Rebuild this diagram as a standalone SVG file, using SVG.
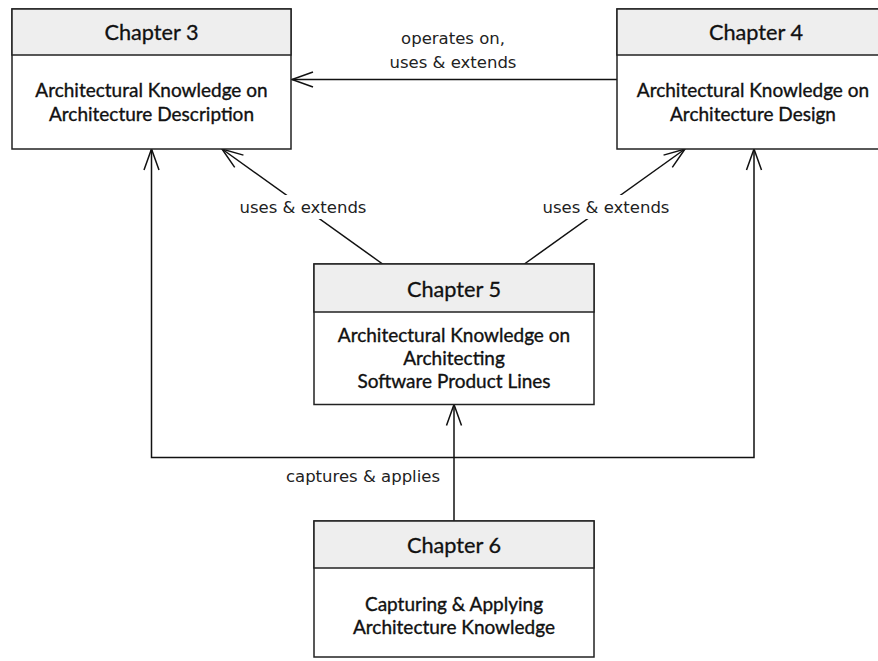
<svg xmlns="http://www.w3.org/2000/svg" width="878" height="661" viewBox="0 0 878 661">
  <style>
    .box { fill: #ffffff; stroke: #222222; stroke-width: 1.5; }
    .head { fill: #eeeeee; stroke: #222222; stroke-width: 1.5; }
    .title { font-family: Lato, "Liberation Sans", sans-serif; font-size: 21.7px; fill: #111111; stroke: #111111; stroke-width: 0.3; text-anchor: middle; }
    .body { font-family: Lato, "Liberation Sans", sans-serif; font-size: 19px; fill: #111111; stroke: #111111; stroke-width: 0.35; text-anchor: middle; }
    .label { font-family: "DejaVu Sans", sans-serif; font-size: 16.5px; fill: #222222; text-anchor: middle; }
    .conn { fill: none; stroke: #111111; stroke-width: 1.5; }
  </style>
  <defs>
    <marker id="open" markerUnits="userSpaceOnUse" markerWidth="30" markerHeight="30" viewBox="-25 -12 30 24" refX="0" refY="0" orient="auto-start-reverse" overflow="visible">
      <path d="M-21,-7.5 L0,0 L-21,7.5" fill="none" stroke="#111111" stroke-width="1.5"/>
    </marker>
  </defs>
  <rect width="878" height="661" fill="#ffffff"/>

  <!-- connectors -->
  <g id="connectors">
    <line class="conn" x1="617" y1="79.5" x2="292" y2="79.5" marker-end="url(#open)"/>
    <line class="conn" x1="384" y1="265" x2="222" y2="149" marker-end="url(#open)"/>
    <line class="conn" x1="523" y1="265" x2="685" y2="149" marker-end="url(#open)"/>
    <path class="conn" d="M151.5,149 V457.5 H754 V149" marker-start="url(#open)" marker-end="url(#open)"/>
    <line class="conn" x1="454" y1="521" x2="454" y2="404.5" marker-end="url(#open)"/>
    <rect x="378" y="26" width="152" height="48" fill="#ffffff"/>
    <text class="label" x="453" y="44">operates on,</text>
    <text class="label" x="453" y="68">uses &amp; extends</text>
    <rect x="234" y="195" width="140" height="24" fill="#ffffff"/>
    <text class="label" x="303" y="213">uses &amp; extends</text>
    <rect x="537" y="195" width="140" height="24" fill="#ffffff"/>
    <text class="label" x="606" y="213">uses &amp; extends</text>
    <text class="label" x="363" y="482">captures &amp; applies</text>
  </g>

  <!-- Chapter 3 -->
  <g id="chapter3">
    <rect class="box" x="12" y="9" width="279" height="140"/>
    <rect class="head" x="12" y="9" width="279" height="46"/>
    <text class="title" x="151.5" y="40">Chapter 3</text>
    <text class="body" x="151.5" y="97">Architectural Knowledge on</text>
    <text class="body" x="151.5" y="121">Architecture Description</text>
  </g>

  <!-- Chapter 4 -->
  <g id="chapter4">
    <rect class="box" x="617" y="9" width="279" height="140"/>
    <rect class="head" x="617" y="9" width="279" height="46"/>
    <text class="title" x="756" y="40">Chapter 4</text>
    <text class="body" x="753" y="97">Architectural Knowledge on</text>
    <text class="body" x="753" y="121">Architecture Design</text>
  </g>

  <!-- Chapter 5 -->
  <g id="chapter5">
    <rect class="box" x="314" y="264" width="280" height="140.5"/>
    <rect class="head" x="314" y="264" width="280" height="48"/>
    <text class="title" x="454" y="297">Chapter 5</text>
    <text class="body" x="454" y="342">Architectural Knowledge on</text>
    <text class="body" x="454" y="365">Architecting</text>
    <text class="body" x="454" y="388">Software Product Lines</text>
  </g>

  <!-- Chapter 6 -->
  <g id="chapter6">
    <rect class="box" x="314" y="521" width="280" height="136"/>
    <rect class="head" x="314" y="521" width="280" height="47"/>
    <text class="title" x="454" y="553">Chapter 6</text>
    <text class="body" x="454" y="611">Capturing &amp; Applying</text>
    <text class="body" x="454" y="634">Architecture Knowledge</text>
  </g>
</svg>
